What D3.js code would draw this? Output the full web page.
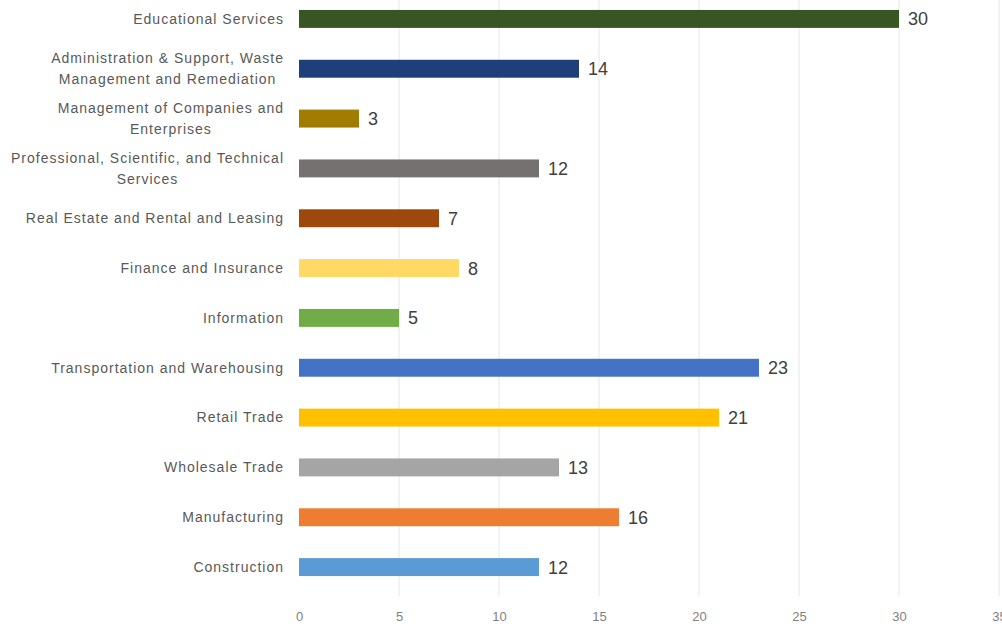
<!DOCTYPE html>
<html>
<head>
<meta charset="utf-8">
<script src="https://cdn.jsdelivr.net/npm/d3@7"></script>
<style>
  html, body { margin: 0; padding: 0; background: #ffffff; }
  svg { display: block; }
</style>
</head>
<body>
<svg id="chart" width="1002" height="627"></svg>
<script>
const categories = [
  "Educational Services",
  "Administration & Support, Waste|Management and Remediation",
  "Management of Companies and|Enterprises",
  "Professional, Scientific, and Technical|Services",
  "Real Estate and Rental and Leasing",
  "Finance and Insurance",
  "Information",
  "Transportation and Warehousing",
  "Retail Trade",
  "Wholesale Trade",
  "Manufacturing",
  "Construction"
];
const values = [30, 14, 3, 12, 7, 8, 5, 23, 21, 13, 16, 12];
const colors = ["#375623", "#1f3f7a", "#a07c00", "#767171", "#9e480e", "#ffd966",
                "#70ad47", "#4472c4", "#ffc000", "#a5a5a5", "#ed7d31", "#5b9bd5"];
const tickValues = [0, 5, 10, 15, 20, 25, 30, 35];

const FONT = "Liberation Sans, Arial, sans-serif";
const svg = d3.select("#chart");
const x = d3.scaleLinear().domain([0, 35]).range([299, 999]);
const y = d3.scaleBand().domain(categories).range([-6, 592]).paddingInner(0.64).paddingOuter(0.32);

// gridlines
svg.append("g").selectAll("line").data(tickValues.filter(d => d > 0)).join("line")
  .attr("x1", d => x(d)).attr("x2", d => x(d))
  .attr("y1", 0).attr("y2", 596)
  .attr("stroke", "#e6e6e6").attr("stroke-width", 1);

// bars
svg.append("g").selectAll("rect").data(categories).join("rect")
  .attr("x", x(0))
  .attr("y", d => y(d))
  .attr("width", (d, i) => x(values[i]) - x(0))
  .attr("height", y.bandwidth())
  .attr("fill", (d, i) => colors[i]);

// value labels
svg.append("g").selectAll("text").data(categories).join("text")
  .attr("x", (d, i) => x(values[i]) + 9)
  .attr("y", d => y(d) + y.bandwidth() / 2)
  .attr("dy", "0.36em")
  .attr("font-family", FONT)
  .attr("font-size", 18)
  .attr("fill", "#404040")
  .text((d, i) => values[i]);

// category labels
const catG = svg.append("g");
const LS = 1;
categories.forEach(c => {
  const lines = c.split("|");
  const cy = y(c) + y.bandwidth() / 2;
  const lh = 20.5;
  const t = catG.append("text")
    .attr("font-family", FONT)
    .attr("font-size", 14)
    .attr("letter-spacing", LS)
    .attr("fill", "#595959");
  if (lines.length === 1) {
    t.attr("x", 283 + LS).attr("y", cy).attr("dy", "0.35em").attr("text-anchor", "end").text(lines[0]);
  } else {
    const tmp = catG.append("text").attr("font-family", FONT).attr("font-size", 14).attr("letter-spacing", LS);
    let maxW = 0;
    lines.forEach(l => { tmp.text(l); maxW = Math.max(maxW, tmp.node().getComputedTextLength()); });
    tmp.remove();
    const cx = 283 + LS - maxW / 2;
    t.attr("text-anchor", "middle");
    lines.forEach((l, k) => {
      t.append("tspan").attr("x", cx)
        .attr("y", cy + (k - (lines.length - 1) / 2) * lh)
        .attr("dy", "0.35em").text(l);
    });
  }
});

// x axis tick labels
const axis = d3.axisBottom(x).tickValues(tickValues).tickSize(0).tickPadding(0);
const ax = svg.append("g").attr("transform", "translate(0,612)").call(axis);
ax.select(".domain").remove();
ax.selectAll("text")
  .attr("font-family", FONT)
  .attr("font-size", 13)
  .attr("fill", "#808080");
</script>
</body>
</html>
